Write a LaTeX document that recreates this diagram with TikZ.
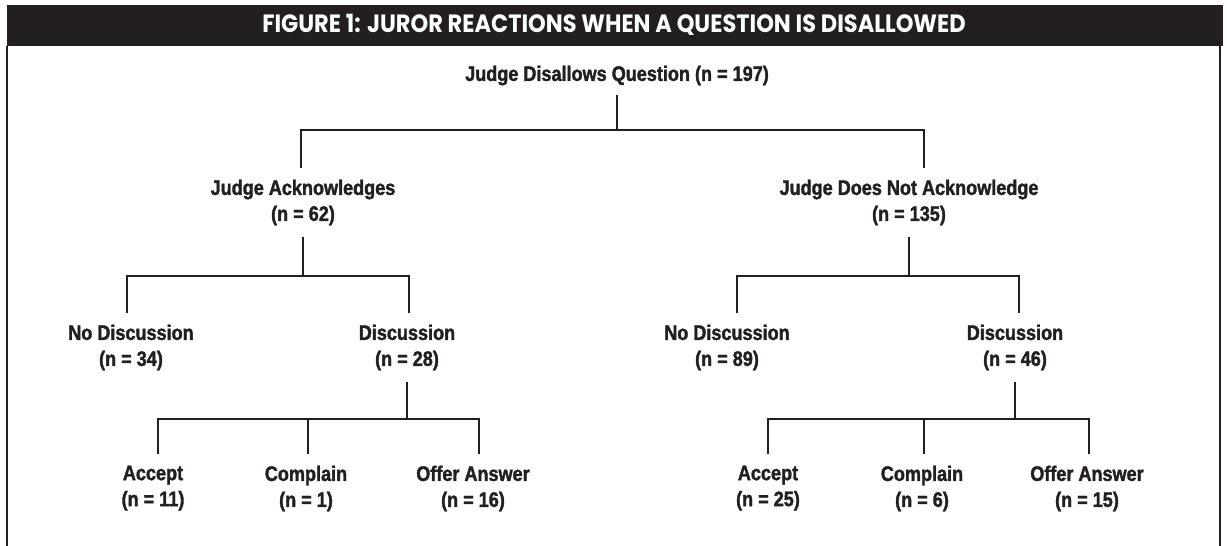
\documentclass[tikz,border=0pt]{standalone}
\usepackage{fontspec}
\setmainfont{Liberation Sans}
\newfontfamily\treefont{Liberation Sans}[FakeStretch=0.86,FakeBold=1.6]
\newfontfamily\headfont{Poppins}[FakeStretch=0.9]
\definecolor{ink}{HTML}{231F20}
\tikzset{
  link/.style={draw=ink,line width=2pt},
  lbl/.style={font={\treefont\bfseries\fontsize{21}{26}\selectfont},text=ink,
    align=center,inner xsep=0pt,inner ysep=12pt,anchor=north}
}

\begin{document}
\begin{tikzpicture}[x=1pt,y=-1pt,line join=miter]
\useasboundingbox (0,0) rectangle (1227,546);
% header bar and frame
\fill[ink] (7,5) rectangle (1223,46);
\node[font={\headfont\bfseries\fontsize{25}{25}\selectfont},text=white] (title) at (614,24.5)
  {FIGURE 1: JUROR REACTIONS WHEN A QUESTION IS DISALLOWED};
\draw[ink,line width=2pt] (7,46) -- (7,546);
\draw[ink,line width=2pt] (1220,46) -- (1220,546);

% tree
\node[lbl,inner ysep=9pt] (root) at (617,56.5) {Judge Disallows Question (n = 197)};
\node[lbl] (ack) at (303,167.5) {Judge Acknowledges\\(n = 62)};
\node[lbl] (nack) at (909,167.5) {Judge Does Not Acknowledge\\(n = 135)};
\node[lbl] (ackno) at (131,312.5) {No Discussion\\(n = 34)};
\node[lbl] (ackdis) at (407,312.5) {Discussion\\(n = 28)};
\node[lbl] (nackno) at (727,312.5) {No Discussion\\(n = 89)};
\node[lbl] (nackdis) at (1015,312.5) {Discussion\\(n = 46)};
\node[lbl] (ackacc) at (153,453.5) {Accept\\(n = 11)};
\node[lbl] (ackcom) at (306,453.5) {Complain\\(n = 1)};
\node[lbl] (ackoff) at (473,453.5) {Offer Answer\\(n = 16)};
\node[lbl] (nackacc) at (768,453.5) {Accept\\(n = 25)};
\node[lbl] (nackcom) at (922,453.5) {Complain\\(n = 6)};
\node[lbl] (nackoff) at (1087,453.5) {Offer Answer\\(n = 15)};

% brackets
\coordinate (bar0) at (0,130);
\coordinate (bar1) at (0,276);
\coordinate (bar2) at (0,419);
\draw[link] (root.south) -- (root.south |- bar0);
\foreach \kid/\dx in {ack/-2,nack/15}
  \draw[link] ([xshift=\dx]\kid.north) |- (root.south |- bar0);
\draw[link] (ack.south) -- (ack.south |- bar1);
\foreach \kid/\dx in {ackno/-4,ackdis/2}
  \draw[link] ([xshift=\dx]\kid.north) |- (ack.south |- bar1);
\draw[link] (nack.south) -- (nack.south |- bar1);
\foreach \kid/\dx in {nackno/10,nackdis/4}
  \draw[link] ([xshift=\dx]\kid.north) |- (nack.south |- bar1);
\draw[link] (ackdis.south) -- (ackdis.south |- bar2);
\foreach \kid/\dx in {ackacc/5,ackcom/2,ackoff/6}
  \draw[link] ([xshift=\dx]\kid.north) |- (ackdis.south |- bar2);
\draw[link] (nackdis.south) -- (nackdis.south |- bar2);
\foreach \kid/\dx in {nackacc/0,nackcom/2,nackoff/2}
  \draw[link] ([xshift=\dx]\kid.north) |- (nackdis.south |- bar2);
\end{tikzpicture}
\end{document}
